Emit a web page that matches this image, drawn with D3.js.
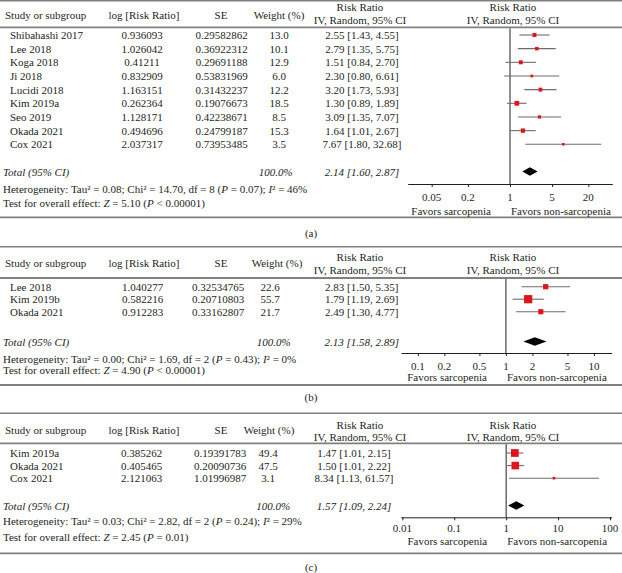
<!DOCTYPE html>
<html>
<head>
<meta charset="utf-8">
<script src="https://cdn.jsdelivr.net/npm/d3@7"></script>
<style>
  body { margin: 0; background: #fff; }
  svg { font-family: "Liberation Serif", "DejaVu Serif", serif; font-size: 11px; }
</style>
</head>
<body>
<svg width="622" height="573"></svg>
<script>
// panel (a)
const aStudies = ['Shibahashi 2017', 'Lee 2018', 'Koga 2018', 'Ji 2018', 'Lucidi 2018', 'Kim 2019a', 'Seo 2019', 'Okada 2021', 'Cox 2021'];
const aLogRR = ['0.936093', '1.026042', '0.41211', '0.832909', '1.163151', '0.262364', '1.128171', '0.494696', '2.037317'];
const aSE = ['0.29582862', '0.36922312', '0.29691188', '0.53831969', '0.31432237', '0.19076673', '0.42238671', '0.24799187', '0.73953485'];
const aWeight = [13.0, 10.1, 12.9, 6.0, 12.2, 18.5, 8.5, 15.3, 3.5];
const aRR = [2.55, 2.79, 1.51, 2.30, 3.20, 1.30, 3.09, 1.64, 7.67];
const aLo = [1.43, 1.35, 0.84, 0.80, 1.73, 0.89, 1.35, 1.01, 1.80];
const aHi = [4.55, 5.75, 2.70, 6.61, 5.93, 1.89, 7.07, 2.67, 32.68];
const aTotal = [2.14, 1.60, 2.87];
const aTicks = [0.05, 0.2, 1, 5, 20];
const aHet = ['0.08', '14.70', '8', '0.07', '46%'];
const aTest = ['5.10', '< 0.00001'];

// panel (b)
const bStudies = ['Lee 2018', 'Kim 2019b', 'Okada 2021'];
const bLogRR = ['1.040277', '0.582216', '0.912283'];
const bSE = ['0.32534765', '0.20710803', '0.33162807'];
const bWeight = [22.6, 55.7, 21.7];
const bRR = [2.83, 1.79, 2.49];
const bLo = [1.50, 1.19, 1.30];
const bHi = [5.35, 2.69, 4.77];
const bTotal = [2.13, 1.58, 2.89];
const bTicks = [0.1, 0.2, 0.5, 1, 2, 5, 10];
const bHet = ['0.00', '1.69', '2', '0.43', '0%'];
const bTest = ['4.90', '< 0.00001'];

// panel (c)
const cStudies = ['Kim 2019a', 'Okada 2021', 'Cox 2021'];
const cLogRR = ['0.385262', '0.405465', '2.121063'];
const cSE = ['0.19391783', '0.20090736', '1.01996987'];
const cWeight = [49.4, 47.5, 3.1];
const cRR = [1.47, 1.50, 8.34];
const cLo = [1.01, 1.01, 1.13];
const cHi = [2.15, 2.22, 61.57];
const cTotal = [1.57, 1.09, 2.24];
const cTicks = [0.01, 0.1, 1, 10, 100];
const cHet = ['0.03', '2.82', '2', '0.24', '29%'];
const cTest = ['2.45', '= 0.01'];

const svg = d3.select('svg');
const ink = '#231f20';
const rule = '#808080';

const panels = [
  { tag: '(a)', studies: aStudies, logrr: aLogRR, se: aSE, w: aWeight, rr: aRR, lo: aLo, hi: aHi, total: aTotal, ticks: aTicks, het: aHet, test: aTest,
    top: 0.8, rr1: 6.7, rr2: 20, head: 15, headLine: 27.3, row0: 35, step: 13.66, totY: 171.5, hetY: 189.3, testY: 202.7,
    axisY: 184, tickY: 197.3, favY: 210.7, bottom: 217.3, tagY: 232.7,
    domain: [0.02, 50], range: [407.7, 612.3], logX: 142, seX: 221.7, wHX: 279, wX: 279, wTX: 275.7, ciX: 362 },
  { tag: '(b)', studies: bStudies, logrr: bLogRR, se: bSE, w: bWeight, rr: bRR, lo: bLo, hi: bHi, total: bTotal, ticks: bTicks, het: bHet, test: bTest,
    top: 246.7, rr1: 257.3, rr2: 270, head: 262.7, headLine: 278, row0: 286.7, step: 12.5, totY: 341.5, hetY: 359.3, testY: 370,
    axisY: 353, tickY: 366, favY: 376.7, bottom: 385, tagY: 396.7,
    domain: [0.0643, 15.9], range: [401, 611.7], logX: 142.5, seX: 218, wHX: 277, wX: 270, wTX: 273.7, ciX: 361.7 },
  { tag: '(c)', studies: cStudies, logrr: cLogRR, se: cSE, w: cWeight, rr: cRR, lo: cLo, hi: cHi, total: cTotal, ticks: cTicks, het: cHet, test: cTest,
    top: 413.3, rr1: 425, rr2: 436.7, head: 430, headLine: 443.3, row0: 453, step: 12.6, totY: 505.5, hetY: 521, testY: 536.7,
    axisY: 517.3, tickY: 528, favY: 541, bottom: 553.3, tagY: 566.7,
    domain: [0.0093, 108], range: [400.7, 611.7], logX: 141.7, seX: 220, wHX: 269, wX: 268, wTX: 273.3, ciX: 354 }
];

function txt(g, x, y, s, anchor, italic) {
  return g.append('text').attr('x', x).attr('y', y)
    .attr('dominant-baseline', 'central')
    .attr('text-anchor', anchor || 'start')
    .attr('font-style', italic ? 'italic' : null)
    .attr('fill', ink).text(s);
}

// pieces: [text, italic]
function rich(g, x, y, pieces) {
  const t = g.append('text').attr('x', x).attr('y', y)
    .attr('dominant-baseline', 'central').attr('fill', ink);
  pieces.forEach(p => t.append('tspan').attr('font-style', p[1] ? 'italic' : null).text(p[0]));
}

const fmt = d3.format('.2f');
const tickFmt = v => (v < 1 ? String(v) : d3.format('d')(v));

panels.forEach(p => {
  const g = svg.append('g');
  const x = d3.scaleLog().domain(p.domain).range(p.range);
  const y = i => p.row0 + i * p.step;

  // rules
  [[p.top, 1.6], [p.headLine, 1.8], [p.bottom, 1.8]].forEach(r => {
    g.append('line').attr('x1', 0).attr('x2', 622).attr('y1', r[0]).attr('y2', r[0])
      .attr('stroke', rule).attr('stroke-width', r[1]);
  });

  // headers
  txt(g, 5, p.head, 'Study or subgroup');
  txt(g, 144, p.head, 'log [Risk Ratio]', 'middle');
  txt(g, 221, p.head, 'SE', 'middle');
  txt(g, p.wHX, p.head, 'Weight (%)', 'middle');
  txt(g, 360, p.rr1, 'Risk Ratio', 'middle');
  txt(g, 360, p.rr2, 'IV, Random, 95% CI', 'middle');
  txt(g, 513, p.rr1, 'Risk Ratio', 'middle');
  txt(g, 513, p.rr2, 'IV, Random, 95% CI', 'middle');

  // study rows
  p.studies.forEach((s, i) => {
    txt(g, 10, y(i), s);
    txt(g, p.logX, y(i), p.logrr[i], 'middle');
    txt(g, p.seX, y(i), p.se[i], 'middle');
    txt(g, p.wX, y(i), p.w[i].toFixed(1), 'middle');
    txt(g, p.ciX, y(i), `${fmt(p.rr[i])} [${fmt(p.lo[i])}, ${fmt(p.hi[i])}]`, 'middle');
  });

  // total row
  txt(g, 3, p.totY, 'Total (95% CI)', 'start', true);
  txt(g, p.wTX, p.totY, '100.0%', 'middle', true);
  txt(g, p.ciX, p.totY, `${fmt(p.total[0])} [${fmt(p.total[1])}, ${fmt(p.total[2])}]`, 'middle', true);

  rich(g, 3, p.hetY, [
    [`Heterogeneity: Tau\u00b2 = ${p.het[0]}; Chi\u00b2 = ${p.het[1]}, df = ${p.het[2]} (`, false],
    ['P', true], [` = ${p.het[3]}); `, false], ['I', true], [`\u00b2 = ${p.het[4]}`, false]
  ]);
  rich(g, 3, p.testY, [
    ['Test for overall effect: ', false], ['Z', true], [` = ${p.test[0]} (`, false],
    ['P', true], [` ${p.test[1]})`, false]
  ]);

  // reference line at 1
  g.append('line').attr('x1', x(1)).attr('x2', x(1)).attr('y1', p.headLine + 1).attr('y2', p.axisY)
    .attr('stroke', ink).attr('stroke-width', 1);

  // axis
  const ax = g.append('g').attr('transform', `translate(0,${p.axisY})`)
    .call(d3.axisBottom(x).tickValues(p.ticks).tickFormat(tickFmt).tickSize(3).tickSizeOuter(0));
  ax.select('.domain').attr('stroke', ink);
  ax.selectAll('.tick line').attr('stroke', ink);
  ax.selectAll('.tick text').remove();
  p.ticks.forEach(v => txt(g, x(v), p.tickY, tickFmt(v), 'middle'));

  txt(g, x(1) - 19, p.favY, 'Favors sarcopenia', 'end');
  txt(g, x(1) + 1, p.favY, 'Favors non-sarcopenia', 'start');

  // CI lines and squares
  g.selectAll('line.ci').data(p.rr).join('line').attr('class', 'ci')
    .attr('x1', (d, i) => x(p.lo[i])).attr('x2', (d, i) => x(p.hi[i]))
    .attr('y1', (d, i) => y(i)).attr('y2', (d, i) => y(i))
    .attr('stroke', '#6d6d6d').attr('stroke-width', 1.1);
  g.selectAll('rect.sq').data(p.rr).join('rect').attr('class', 'sq')
    .attr('width', (d, i) => Math.max(2.6, 1.1 * Math.sqrt(p.w[i])))
    .attr('height', (d, i) => Math.max(2.6, 1.1 * Math.sqrt(p.w[i])))
    .attr('x', (d, i) => x(d) - Math.max(2.6, 1.1 * Math.sqrt(p.w[i])) / 2)
    .attr('y', (d, i) => y(i) - Math.max(2.6, 1.1 * Math.sqrt(p.w[i])) / 2)
    .attr('fill', '#e0141b');

  // pooled diamond
  const t = p.total, h = 4.3;
  g.append('polygon')
    .attr('points', [[x(t[1]), p.totY], [x(t[0]), p.totY - h], [x(t[2]), p.totY], [x(t[0]), p.totY + h]].join(' '))
    .attr('fill', '#000');

  txt(svg, 311, p.tagY, p.tag, 'middle');
});
</script>
</body>
</html>
